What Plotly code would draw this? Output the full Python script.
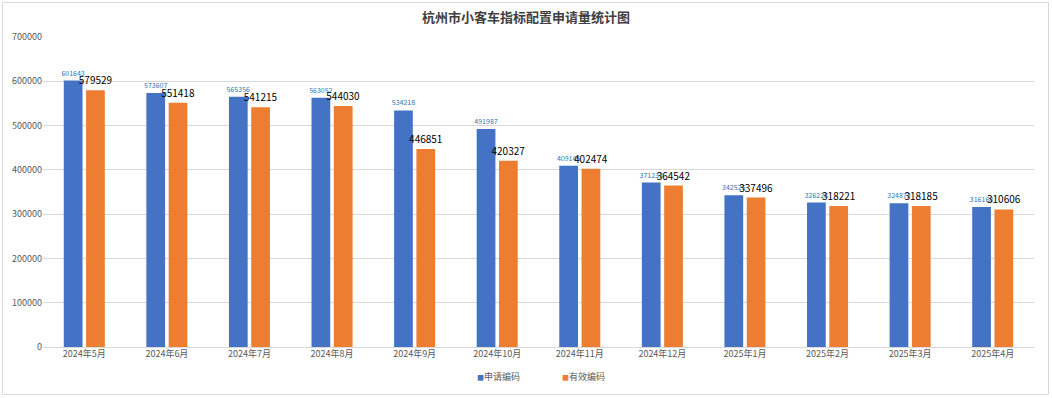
import plotly.graph_objects as go

categories = ["2024年5月", "2024年6月", "2024年7月", "2024年8月", "2024年9月", "2024年10月",
              "2024年11月", "2024年12月", "2025年1月", "2025年2月", "2025年3月", "2025年4月"]
apply_codes = [601643, 573607, 565356, 563052, 534218, 491987,
               409145, 371233, 342525, 326228, 324873, 316168]
valid_codes = [579529, 551418, 541215, 544030, 446851, 420327,
               402474, 364542, 337496, 318221, 318185, 310606]
y_ticks = [0, 100000, 200000, 300000, 400000, 500000, 600000, 700000]
series_names = ["申请编码", "有效编码"]
series_colors = ["#4472C4", "#ED7D31"]

FONT = "Noto Sans CJK SC, Noto Sans, sans-serif"

fig = go.Figure()
fig.add_trace(go.Bar(
    name=series_names[0], x=categories, y=apply_codes,
    marker=dict(color=series_colors[0], line=dict(width=0)),
    text=[str(v) for v in apply_codes], textposition="outside",
    outsidetextfont=dict(size=7, color="#2E75B6", family=FONT),
    constraintext="none", cliponaxis=False, showlegend=False,
))
fig.add_trace(go.Bar(
    name=series_names[1], x=categories, y=valid_codes,
    marker=dict(color=series_colors[1], line=dict(width=0)),
    text=[str(v) for v in valid_codes], textposition="outside",
    outsidetextfont=dict(size=10, color="#000000", family=FONT),
    constraintext="none", cliponaxis=False, showlegend=False,
))

legend_x = [0.460, 0.545]
annotations = []
for name, color, lx in zip(series_names, series_colors, legend_x):
    annotations.append(dict(
        xref="paper", yref="paper", x=lx, y=-0.094, xanchor="center", yanchor="middle",
        showarrow=False,
        text=f"<span style='color:{color};font-size:7px'>■</span>{name}",
        font=dict(size=9, color="#595959", family=FONT),
    ))

fig.update_layout(
    width=1052, height=398,
    margin=dict(l=43, r=18, t=37, b=51, autoexpand=False),
    paper_bgcolor="white", plot_bgcolor="white",
    font=dict(family=FONT, size=9, color="#595959"),
    title=dict(text="<b>杭州市小客车指标配置申请量统计图</b>", x=0.5, xanchor="center",
               y=1 - 17 / 398, yanchor="middle",
               font=dict(size=13, color="#404040", family=FONT)),
    barmode="group", bargap=0.46, bargroupgap=0.16,
    showlegend=False,
    annotations=annotations,
    xaxis=dict(showgrid=False, showline=False, ticks="", tickfont=dict(size=9, color="#595959")),
    yaxis=dict(range=[0, 700000], tickvals=y_ticks, ticktext=[str(v) for v in y_ticks],
               showgrid=True, gridcolor="#d9d9d9", gridwidth=1,
               zeroline=True, zerolinecolor="#d9d9d9", zerolinewidth=1,
               showline=False, ticks="", tickfont=dict(size=9, color="#595959")),
    shapes=[dict(type="rect", xref="paper", yref="paper",
                 x0=(2.5 - 43) / 991, x1=(1048.5 - 43) / 991,
                 y0=(347 - 394.5) / 310, y1=(347 - 2.5) / 310,
                 line=dict(color="#d9d9d9", width=1), layer="below")],
)

fig.write_html(
    "out.html",
    config={"displayModeBar": False},
    post_script="document.body.style.margin='0';document.body.style.overflow='hidden';",
)
